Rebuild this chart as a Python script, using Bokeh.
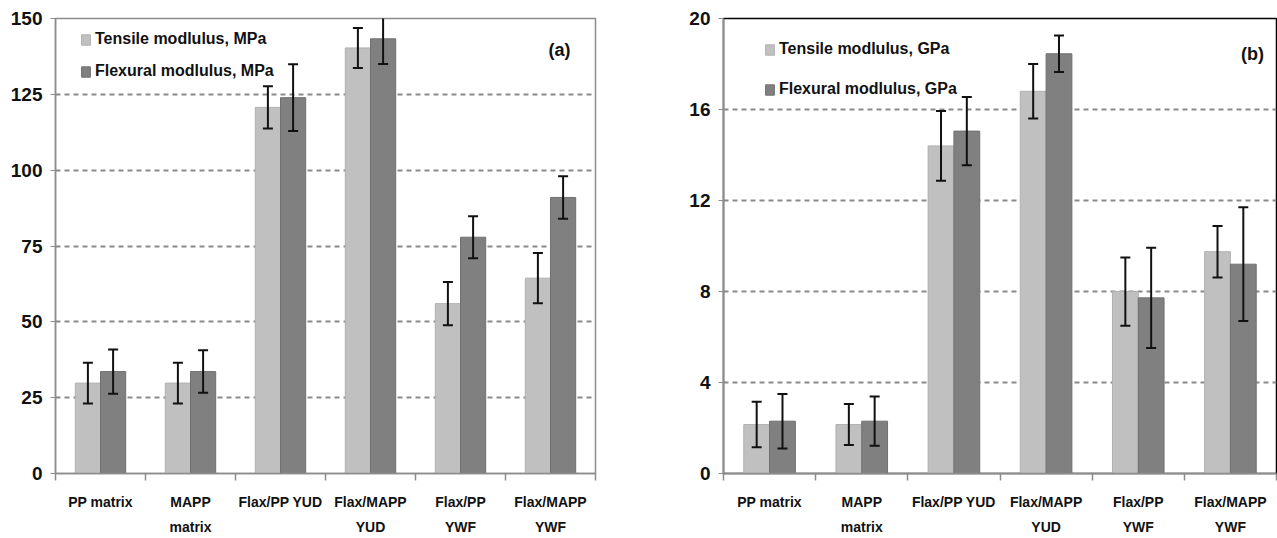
import numpy as np
from bokeh.plotting import figure
from bokeh.models import (ColumnDataSource, FixedTicker, Whisker, TeeHead, Legend,
                          LegendItem, Label, Range1d)
from bokeh.layouts import row
from bokeh.embed import file_html
from bokeh.resources import INLINE
from bokeh.transform import dodge

categories = ["PP matrix", "MAPP\nmatrix", "Flax/PP YUD", "Flax/MAPP\nYUD", "Flax/PP\nYWF", "Flax/MAPP\nYWF"]

tensile_mpa = [29.8, 29.8, 120.7, 140.3, 56.0, 64.4]
tensile_mpa_err = [6.7, 6.7, 7.0, 6.6, 7.1, 8.3]
flexural_mpa = [33.6, 33.6, 123.9, 143.3, 77.9, 91.0]
flexural_mpa_err = [7.3, 7.0, 11.0, 8.3, 6.9, 7.0]
ticks_mpa = [0, 25, 50, 75, 100, 125, 150]

tensile_gpa = [2.15, 2.15, 14.4, 16.8, 8.0, 9.75]
tensile_gpa_err = [1.0, 0.9, 1.53, 1.2, 1.5, 1.13]
flexural_gpa = [2.3, 2.3, 15.05, 18.45, 7.72, 9.2]
flexural_gpa_err = [1.2, 1.08, 1.5, 0.8, 2.2, 2.5]
ticks_gpa = [0, 4, 8, 12, 16, 20]

legend_mpa = ["Tensile modlulus, MPa", "Flexural modlulus, MPa"]
legend_gpa = ["Tensile modlulus, GPa", "Flexural modlulus, GPa"]

FONT = "Liberation Sans"
LIGHT = "#c0c0c0"
DARK = "#808080"
AXIS_GRAY = "#8c8c8c"


def panel(tens, tens_err, flex, flex_err, yticks, labels, tag, tag_pos,
          width, borders, outline, leg_loc, leg_spacing):
    n = len(categories)
    centers = np.arange(n) + 0.5
    bounds = np.arange(n + 1).astype(float)
    src = ColumnDataSource(dict(
        x=centers,
        tens=tens, flex=flex,
        t_up=np.array(tens) + np.array(tens_err),
        t_lo=np.array(tens) - np.array(tens_err),
        f_up=np.array(flex) + np.array(flex_err),
        f_lo=np.array(flex) - np.array(flex_err),
    ))
    left, right, top, bottom = borders
    p = figure(width=width, height=538, output_backend="svg", toolbar_location=None,
               x_range=Range1d(0, n), y_range=Range1d(yticks[0], yticks[-1]),
               min_border_left=left, min_border_right=right,
               min_border_top=top, min_border_bottom=bottom,
               background_fill_color="white", border_fill_color="white")
    p.outline_line_color = outline
    p.outline_line_width = 1.5

    r1 = p.vbar(x=dodge("x", -0.14), top="tens", width=0.28, bottom=0, source=src,
                fill_color=LIGHT, line_color="#b0b0b0", line_width=1)
    r2 = p.vbar(x=dodge("x", 0.14), top="flex", width=0.28, bottom=0, source=src,
                fill_color=DARK, line_color="#707070", line_width=1)

    for field_x, up, lo in ((-0.14, "t_up", "t_lo"), (0.14, "f_up", "f_lo")):
        w = Whisker(base=dodge("x", field_x), upper=up, lower=lo, source=src,
                    level="overlay",
                    line_color="#111111", line_width=2,
                    upper_head=TeeHead(size=10, line_width=2, line_color="#111111"),
                    lower_head=TeeHead(size=10, line_width=2, line_color="#111111"))
        p.add_layout(w)

    # grid
    p.xgrid.visible = False
    p.ygrid.ticker = FixedTicker(ticks=yticks)
    p.ygrid.grid_line_color = "#8a8a8a"
    p.ygrid.grid_line_dash = "5 4"
    p.ygrid.grid_line_width = 1.8

    # y axis
    ya = p.yaxis[0]
    ya.ticker = FixedTicker(ticks=yticks)
    ya.axis_line_color = AXIS_GRAY
    ya.axis_line_width = 1.5
    ya.major_tick_line_color = AXIS_GRAY
    ya.major_tick_out = 5
    ya.major_tick_in = 0
    ya.minor_tick_line_color = None
    ya.major_label_standoff = 8
    ya.major_label_text_font = FONT
    ya.major_label_text_font_style = "bold"
    ya.major_label_text_font_size = "19px"
    ya.major_label_text_color = "#111111"

    # x axis: labels at centres, tick marks at category boundaries
    xa = p.xaxis[0]
    xa.ticker = FixedTicker(ticks=list(centers), minor_ticks=list(bounds))
    xa.major_label_overrides = {float(c): lab for c, lab in zip(centers, categories)}
    xa.axis_line_color = AXIS_GRAY
    xa.axis_line_width = 1.5
    xa.major_tick_line_color = None
    xa.major_tick_out = 0
    xa.major_tick_in = 0
    xa.minor_tick_line_color = AXIS_GRAY
    xa.minor_tick_line_width = 1.5
    xa.minor_tick_out = 7
    xa.minor_tick_in = 0
    xa.major_label_standoff = 13
    xa.major_label_text_font = FONT
    xa.major_label_text_font_style = "bold"
    xa.major_label_text_font_size = "14px"
    xa.major_label_text_color = "#111111"
    xa.major_label_text_line_height = 1.6

    legend = Legend(items=[LegendItem(label=labels[0], renderers=[r1]),
                           LegendItem(label=labels[1], renderers=[r2])],
                    location=leg_loc, glyph_width=11, glyph_height=13,
                    label_height=20, spacing=leg_spacing, label_standoff=4,
                    padding=0, margin=0, border_line_color=None,
                    background_fill_alpha=0,
                    label_text_font=FONT, label_text_font_style="bold",
                    label_text_font_size="16px", label_text_color="#111111")
    p.add_layout(legend)

    p.add_layout(Label(x=tag_pos[0], y=tag_pos[1], text=tag, text_align="center",
                       text_baseline="middle", text_font=FONT, text_font_style="bold",
                       text_font_size="18px", text_color="#111111"))
    return p


p1 = panel(tensile_mpa, tensile_mpa_err, flexural_mpa, flexural_mpa_err, ticks_mpa,
           legend_mpa, "(a)", (5.6, 139.5), 640, (55, 45, 17, 65), AXIS_GRAY,
           (25, 392), 12)
p2 = panel(tensile_gpa, tensile_gpa_err, flexural_gpa, flexural_gpa_err, ticks_gpa,
           legend_gpa, "(b)", (5.74, 18.45), 637, (83, 1, 18, 63), "black",
           (41, 374), 20)

layout = row(p1, p2)
open("out.html", "w").write(file_html(layout, INLINE))
